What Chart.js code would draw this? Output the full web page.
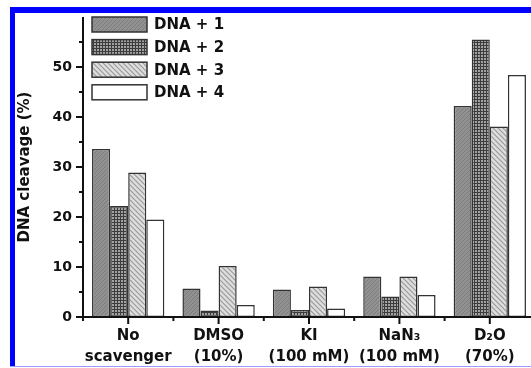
<!DOCTYPE html>
<html>
<head>
<meta charset="utf-8">
<script src="https://cdn.jsdelivr.net/npm/chart.js@4"></script>
<style>
html, body { margin: 0; padding: 0; background: #fff; overflow: hidden; width: 531px; height: 368px; }
#wrap { position: absolute; left: 0; top: 0; }
.edge { position: absolute; background: #0000ff; }
</style>
</head>
<body>
<div id="wrap"><canvas id="myChart" width="540" height="368"></canvas></div>
<div class="edge" style="left:10px;top:7px;width:521px;height:6px"></div>
<div class="edge" style="left:10px;top:7px;width:5px;height:360px"></div>
<div class="edge" style="left:10px;top:366px;width:521px;height:1px;background:#9a9aff"></div>
<script>
const categories = [['No', 'scavenger'], ['DMSO', '(10%)'], ['KI', '(100 mM)'], ['NaN₃', '(100 mM)'], ['D₂O', '(70%)']];
const seriesNames = ['DNA + 1', 'DNA + 2', 'DNA + 3', 'DNA + 4'];
const dna1 = [33.6, 5.7, 5.5, 8.1, 42.2];
const dna2 = [22.2, 1.3, 1.4, 4.1, 55.5];
const dna3 = [28.9, 10.2, 6.1, 8.1, 38.1];
const dna4 = [19.5, 2.4, 1.7, 4.4, 48.4];
const yMax = 60;
const yStep = 5;

const canvas = document.getElementById('myChart');
const ctx = canvas.getContext('2d');
const FONT = 'DejaVu Sans';
const INK = '#111';

const makePattern = (size, base, draw) => {
  const c = document.createElement('canvas');
  c.width = size;
  c.height = size;
  const g = c.getContext('2d');
  g.fillStyle = base;
  g.fillRect(0, 0, size, size);
  draw(g, size);
  return ctx.createPattern(c, 'repeat');
};

const diag = (color, width, forward) => (g, s) => {
  g.strokeStyle = color;
  g.lineWidth = width;
  g.beginPath();
  for (let k = -1; k <= 1; k++) {
    if (forward) {
      g.moveTo(k * s - 1, s + 1);
      g.lineTo(k * s + s + 1, -1);
    } else {
      g.moveTo(k * s - 1, -1);
      g.lineTo(k * s + s + 1, s + 1);
    }
  }
  g.stroke();
};

const fills = [
  makePattern(4, '#919191', diag('#7d7d7d', 1, true)),
  makePattern(3, '#a2a2a2', (g, s) => {
    g.fillStyle = '#3c3c3c';
    g.fillRect(0, 0, s, 1);
    g.fillRect(0, 0, 1, s);
  }),
  makePattern(5, '#dedede', diag('#9a9a9a', 1.2, false)),
  '#ffffff',
];

const seriesData = [dna1, dna2, dna3, dna4];

const axesPlugin = {
  id: 'axesPlugin',
  afterDatasetsDraw(chart) {
    const { ctx, scales: { x, y } } = chart;
    const line = (x1, y1, x2, y2) => {
      ctx.beginPath();
      ctx.moveTo(x1, y1);
      ctx.lineTo(x2, y2);
      ctx.stroke();
    };
    ctx.save();
    ctx.strokeStyle = INK;
    ctx.lineWidth = 2;
    const y0 = y.getPixelForValue(0);
    line(x.left, y.getPixelForValue(yMax), x.left, y0 + 1);
    line(x.left - 1, y0, x.right, y0);
    // y ticks: major every 10, minor every 5
    y.ticks.forEach((t) => {
      if (t.value >= yMax) return;
      const py = y.getPixelForValue(t.value);
      const len = t.value % 10 === 0 ? 7 : 4;
      line(x.left - len, py, x.left, py);
    });
    // x ticks: long at centers, short at boundaries
    const step = x.getPixelForValue(1) - x.getPixelForValue(0);
    categories.forEach((_, i) => {
      const px = x.getPixelForValue(i);
      line(px, y0, px, y0 + 7);
      line(px - step / 2, y0, px - step / 2, y0 + 4);
    });
    ctx.restore();
  },
  afterDraw(chart) {
    const { ctx } = chart;
    const left = 92, top = 17, boxW = 55, boxH = 15, gap = 22.6;
    ctx.save();
    ctx.font = `bold 15px "${FONT}"`;
    ctx.textBaseline = 'middle';
    chart.data.datasets.forEach((ds, i) => {
      const ty = top + i * gap;
      ctx.fillStyle = ds.backgroundColor;
      ctx.fillRect(left, ty, boxW, boxH);
      ctx.strokeStyle = '#333';
      ctx.lineWidth = 1.5;
      ctx.strokeRect(left, ty, boxW, boxH);
      ctx.fillStyle = INK;
      ctx.fillText(ds.label, left + boxW + 7, ty + boxH / 2 + 1);
    });
    ctx.restore();
  },
};

const config = {
  type: 'bar',
  data: {
    labels: categories,
    datasets: seriesNames.map((name, i) => ({
      label: name,
      data: seriesData[i],
      backgroundColor: fills[i],
      borderColor: '#333',
      borderWidth: 1.5,
      borderSkipped: false,
      categoryPercentage: 0.8,
      barPercentage: 1.0,
    })),
  },
  options: {
    responsive: false,
    animation: false,
    devicePixelRatio: 1,
    layout: { padding: { top: 17, right: 5, left: 0, bottom: 0 } },
    plugins: {
      legend: { display: false },
      tooltip: { enabled: false },
    },
    scales: {
      x: {
        grid: { display: false, drawTicks: true, tickLength: 6 },
        border: { display: false },
        ticks: {
          color: INK,
          padding: 3,
          maxRotation: 0,
          autoSkip: false,
          font: { family: FONT, size: 15, weight: 'bold', lineHeight: 1.4 },
        },
        afterFit: (scale) => { scale.height = 51; },
      },
      y: {
        min: 0,
        max: yMax,
        grid: { display: false, drawTicks: true, tickLength: 9 },
        border: { display: false },
        ticks: {
          stepSize: yStep,
          color: INK,
          padding: 2,
          font: { family: FONT, size: 14, weight: 'bold' },
          callback: (v) => (v % 10 === 0 && v < yMax ? v : ''),
        },
        title: {
          display: true,
          text: 'DNA cleavage (%)',
          color: INK,
          padding: { top: 16, bottom: 0 },
          font: { family: FONT, size: 15, weight: 'bold', lineHeight: 1.2 },
        },
        afterFit: (scale) => { scale.width = 83; },
      },
    },
  },
  plugins: [axesPlugin],
};

new Chart(ctx, config);
</script>
</body>
</html>
